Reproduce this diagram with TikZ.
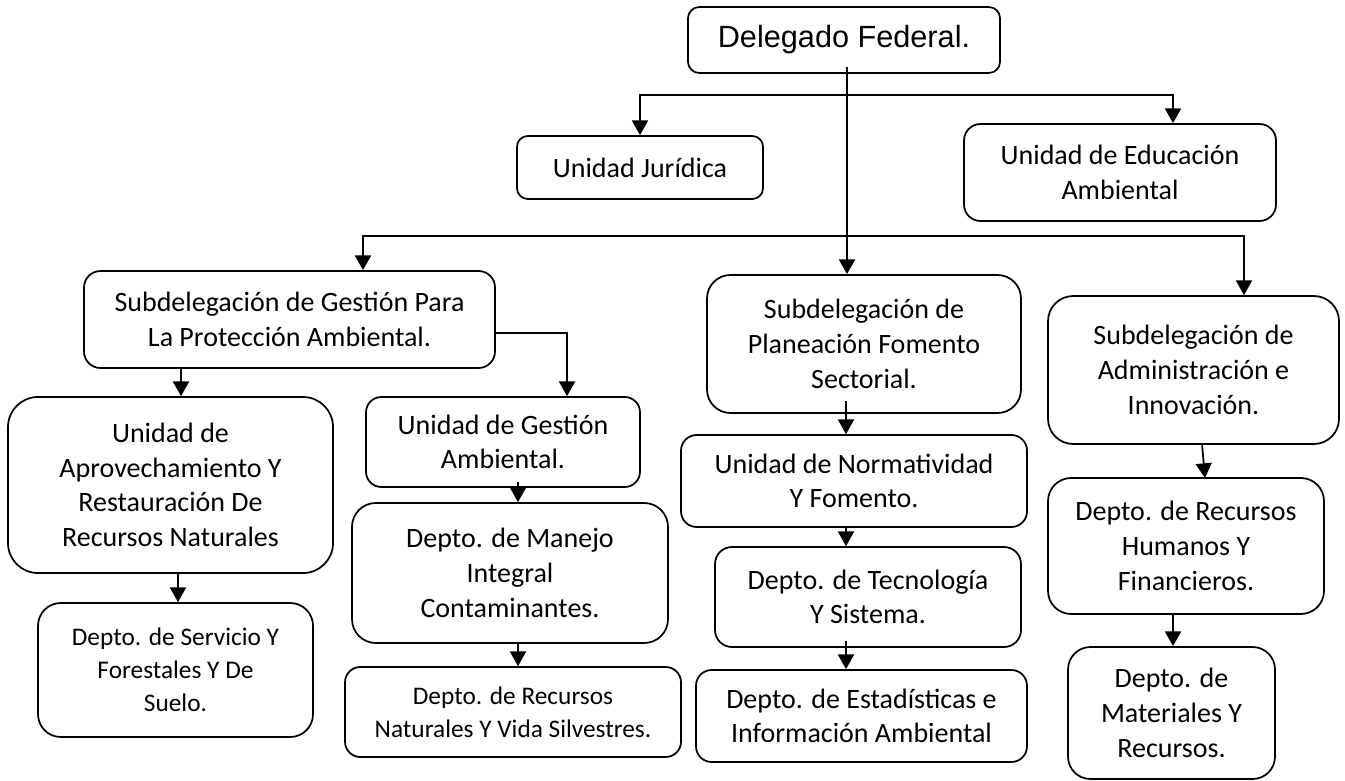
\documentclass[tikz,border=0pt]{standalone}
\usepackage{fontspec}
\setmainfont{Carlito}
\newfontfamily\arialf{Liberation Sans}
\usetikzlibrary{arrows.meta}
\tikzset{
  box/.style={draw, line width=1.3pt, align=center, inner sep=0pt,
              font=\fontsize{21}{26}\selectfont},
  smalltext/.style={font=\fontsize{19}{24.8}\selectfont},
  topfont/.style={font=\arialf\fontsize{23}{27}\selectfont},
  arr/.style={-{Triangle[width=12pt,length=11pt]}, line width=1.3pt},
}
\newcommand\bx[7][]{%
  \pgfmathsetmacro\bxw{(#5-#3)*0.75}%
  \pgfmathsetmacro\bxh{(#6-#4)*0.75}%
  \pgfmathsetmacro\bxr{min(#5-#3,#6-#4)*0.75*0.17}%
  \pgfmathsetmacro\bxcx{(#3+#5)/2}%
  \pgfmathsetmacro\bxcy{(#4+#6)/2}%
  \node[box,#1,minimum width=\bxw pt,minimum height=\bxh pt,rounded corners=\bxr pt] (#2) at (\bxcx,\bxcy) {#7};}
\begin{document}
\begin{tikzpicture}[x=0.75pt,y=-0.75pt]
\useasboundingbox (0,0) rectangle (1345,781);
% boxes
\bx[topfont]{D}{688}{7}{1000}{73}{Delegado Federal.}
\bx{J}{517}{136}{763}{199}{Unidad Jurídica}
\bx{E}{964}{124}{1276}{221}{Unidad de Educación\\Ambiental}
\bx{G}{84}{271}{495}{368}{Subdelegación de Gestión Para\\La Protección Ambiental.}
\bx{P}{707}{275}{1021}{413}{Subdelegación de\\Planeación Fomento\\Sectorial.}
\bx{Ad}{1048}{296}{1339}{444}{Subdelegación de\\Administración e\\Innovación.}
\bx{Ap}{8}{397}{333}{573}{Unidad de\\Aprovechamiento Y\\Restauración De\\Recursos Naturales}
\bx{UG}{366}{397}{640}{487}{Unidad de Gestión\\Ambiental.}
\bx{N}{681}{435}{1027}{527}{Unidad de Normatividad\\Y Fomento.}
\bx{RH}{1048}{478}{1324}{614}{Depto. de Recursos\\Humanos Y\\Financieros.}
\bx[smalltext]{S}{38}{603}{313}{737}{Depto. de Servicio Y\\Forestales Y De\\Suelo.}
\bx{M}{352}{503}{668}{643}{Depto. de Manejo\\Integral\\Contaminantes.}
\bx{T}{715}{547}{1021}{647}{Depto. de Tecnología\\Y Sistema.}
\bx[smalltext]{RN}{345}{667}{681}{757}{Depto. de Recursos\\Naturales Y Vida Silvestres.}
\bx{Es}{696}{670}{1027}{762}{Depto. de Estadísticas e\\Información Ambiental}
\bx{Ma}{1068}{647}{1275}{779}{Depto. de\\Materiales Y\\Recursos.}
% helper coordinates
\coordinate (dS) at (847,67);
\coordinate (c0) at (847,95);
\coordinate (c1) at (847,236);
\coordinate (eX) at (1173,0);
\coordinate (gX) at (363,0);
\coordinate (aX) at (1244,0);
\coordinate (apX) at (181,0);
\coordinate (gR) at (0,333);
\coordinate (ugX) at (567,0);
\coordinate (sX) at (178,0);
\coordinate (ugS) at (518,482);
\coordinate (mX) at (518,0);
\coordinate (pS) at (846,401);
\coordinate (nX) at (846,0);
\coordinate (tS) at (846,641);
\coordinate (adS) at (1202,444);
\coordinate (rhT) at (1205,478);
\coordinate (maX) at (1173,0);
% connectors
\draw[arr] (dS) -- (dS |- P.north);
\draw[arr] (c0) -| (J.north);
\draw[arr] (c0) -| (eX |- E.north);
\draw[arr] (c1) -| (gX |- G.north);
\draw[arr] (c1) -| (aX |- Ad.north);
\draw[arr] (apX |- G.south) -- (apX |- Ap.north);
\draw[arr] (gR -| G.east) -| (ugX |- UG.north);
\draw[arr] (sX |- Ap.south) -- (sX |- S.north);
\draw[arr] (ugS) -- (ugS |- M.north);
\draw[arr] (mX |- M.south) -- (mX |- RN.north);
\draw[arr] (pS) -- (pS |- N.north);
\draw[arr] (nX |- N.south) -- (nX |- T.north);
\draw[arr] (tS) -- (tS |- Es.north);
\draw[arr] (adS) -- (rhT);
\draw[arr] (maX |- RH.south) -- (maX |- Ma.north);
\end{tikzpicture}
\end{document}
